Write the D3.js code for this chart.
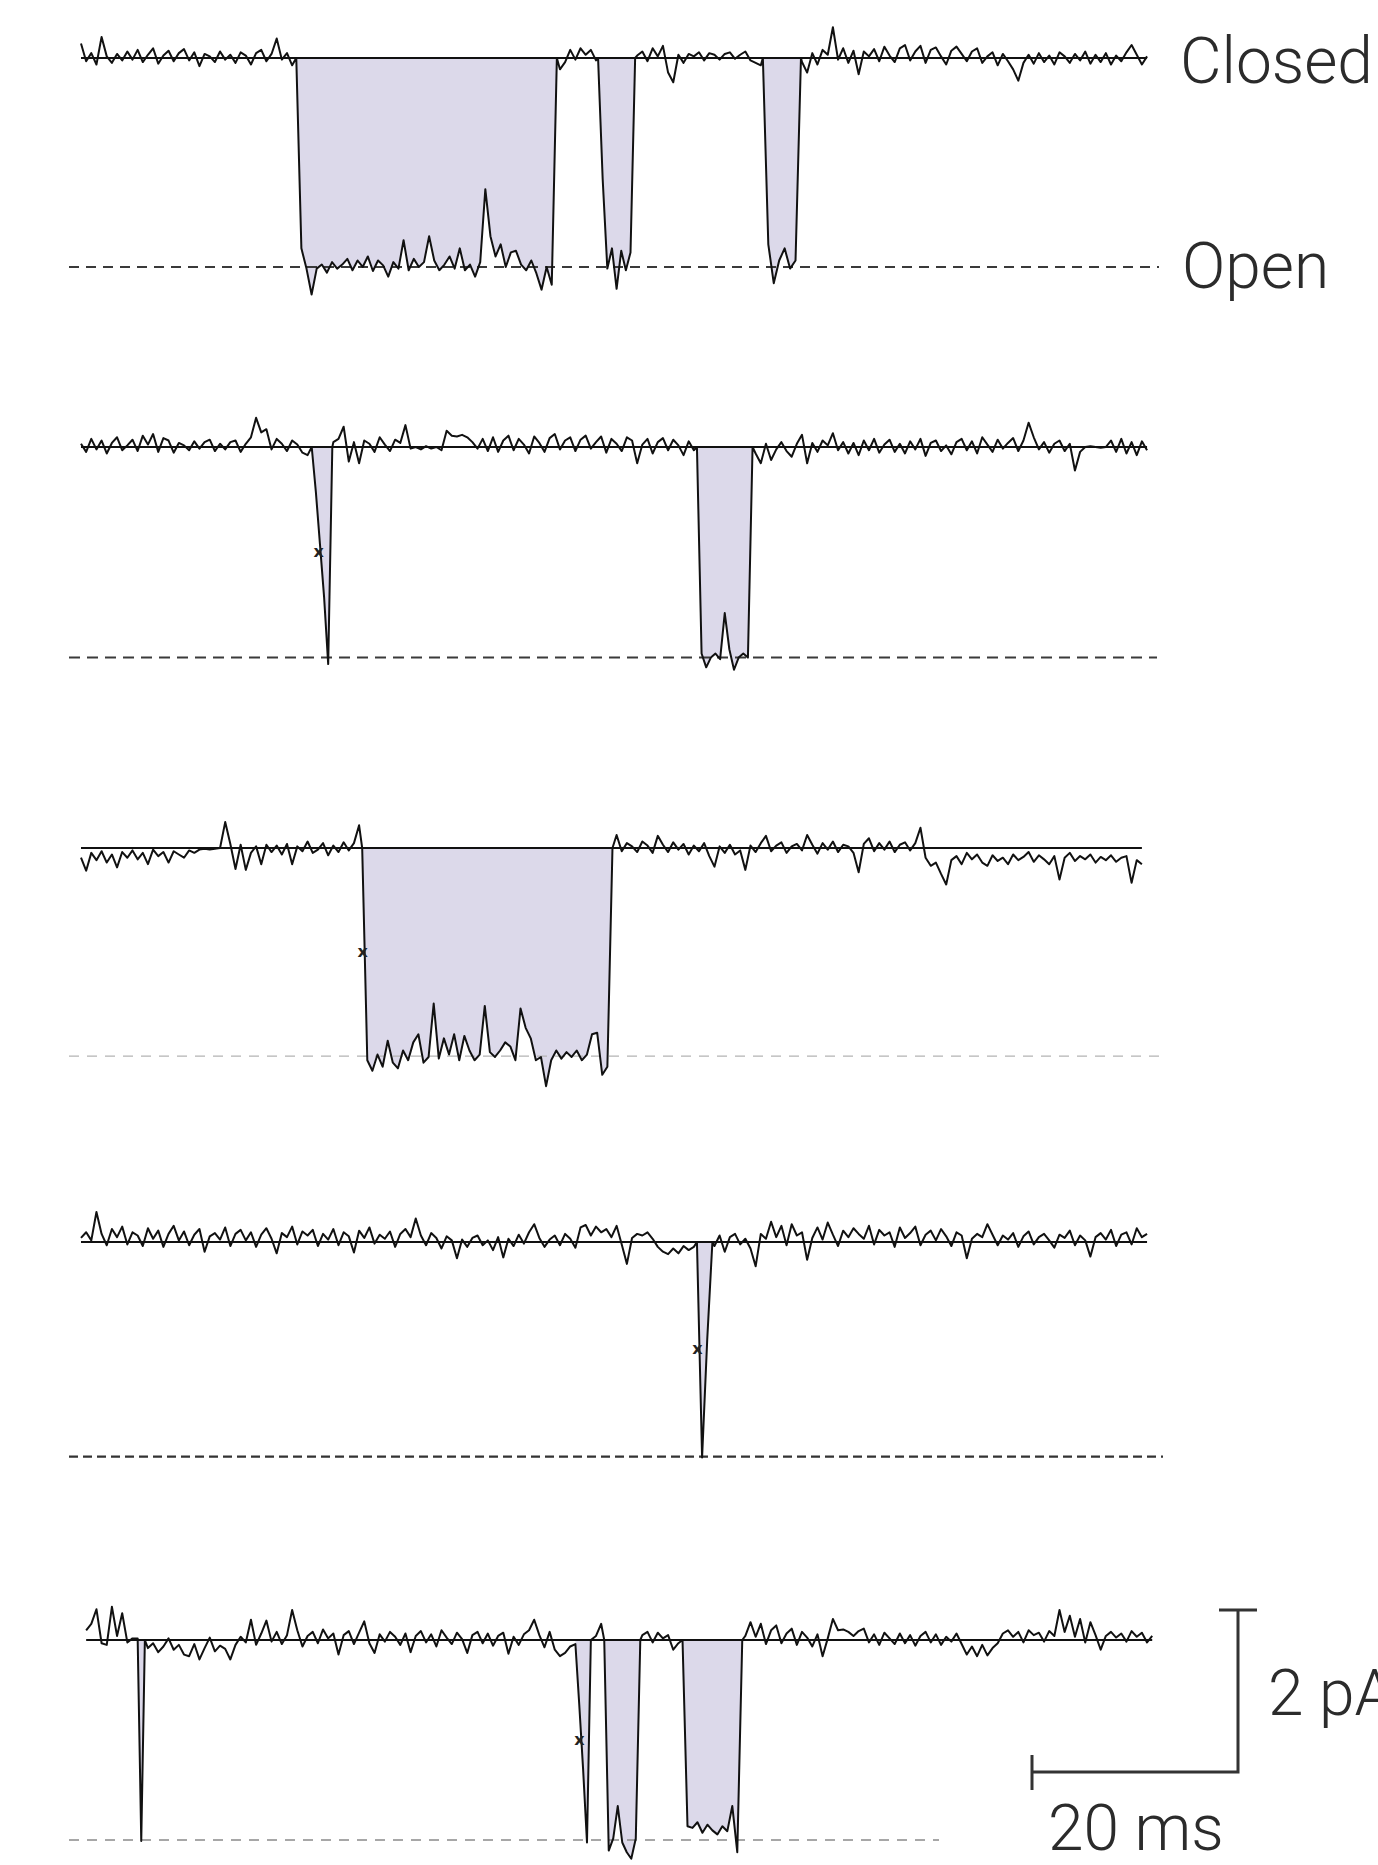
<!DOCTYPE html>
<html>
<head>
<meta charset="utf-8">
<script src="https://cdn.jsdelivr.net/npm/d3@7"></script>
<style>
  body { margin: 0; background: #fff; }
  .label { font-family: Roboto, 'Liberation Sans', sans-serif; font-weight: 300; font-size: 64px; fill: #2b2b2b; }
  .mark { font-family: 'DejaVu Sans', sans-serif; font-size: 16px; font-weight: bold; fill: #222; }
</style>
</head>
<body>
<svg id="chart"></svg>
<script>
// closed-state current of each sweep (pA), one sample every 0.5 ms.
// null = the channel is open there, see the events below
var step = 0.5;
var sweepStart = [0, 0, 0, 0, 0.5];
var openLevel = [-2.58, -2.6, -2.57, -2.65, -2.47];

var noise1 = [
  .18, -.04, .06, -.08, .26, .02, -.06, .05, -.03, .08,
  -.02, .10, -.05, .04, .12, -.07, .03, .09, -.04, .06,
  .11, -.03, .07, -.10, .05, .02, -.05, .08, -.02, .04,
  -.06, .07, .03, -.08, .06, .10, -.04, .05, .24, -.02,
  .06, -.09, null, null, null, null, null, null, null, null,
  null, null, null, null, null, null, null, null, null, null,
  null, null, null, null, null, null, null, null, null, null,
  null, null, null, null, null, null, null, null, null, null,
  null, null, null, null, null, null, null, null, null, null,
  null, null, null, -.14, -.05, .10, -.02, .12, .04, .10,
  -.03, null, null, null, null, null, null, null, .03, .08,
  -.04, .12, .02, .15, -.18, -.30, .04, -.06, .05, .02,
  .07, -.03, .06, .04, -.02, .05, .07, -.01, .04, .08,
  -.03, -.06, -.09, null, null, null, null, null, null, null,
  -.05, -.18, .06, -.08, .10, .04, .38, -.02, .12, -.06,
  .09, -.20, .08, .02, .11, -.04, .14, .03, -.05, .12,
  .16, -.03, .08, .15, -.06, .10, .13, .02, -.08, .09,
  .14, .05, -.04, .08, .12, -.06, .02, .07, -.09, .05,
  -.04, -.14, -.28, -.06, .04, -.07, .06, -.05, .03, -.08,
  .07, .02, -.06, .05, -.03, .08, -.07, .04, -.05, .06,
  -.08, .03, -.04, .07, .16, .04, -.08, .02
];
var noise2 = [
  .04, -.06, .10, -.03, .08, -.08, .05, .12, -.04, .02,
  .09, -.05, .14, .03, .16, -.06, .11, .08, -.07, .05,
  .02, -.04, .07, -.02, .06, .09, -.05, .04, -.03, .06,
  .08, -.06, .04, .12, .36, .18, .22, -.03, .10, .04,
  -.05, .08, .03, -.07, -.10, null, null, null, null, .06,
  .10, .25, -.18, .06, -.20, .08, .04, -.06, .12, .03,
  -.05, .09, .05, .27, -.02, .00, -.03, .01, -.02, .00,
  -.04, .20, .14, .13, .15, .12, .06, -.02, .10, -.05,
  .12, -.06, .08, .14, -.04, .10, .03, -.08, .13, .05,
  -.06, .11, .16, -.03, .08, .12, -.05, .09, .14, -.02,
  .06, .13, -.07, .10, .04, -.05, .12, .08, -.20, .03,
  .10, -.08, .06, .11, -.04, .09, .02, -.10, .07, -.04,
  null, null, null, null, null, null, null, null, null, null,
  null, -.08, -.20, .04, -.16, -.03, .06, -.05, -.12, .04,
  .15, -.20, .05, -.06, .08, .02, .17, -.04, .06, -.08,
  .05, -.10, .08, -.04, .10, -.07, .03, .09, -.06, .04,
  -.08, .07, -.03, .10, -.11, .05, .08, -.05, .02, -.09,
  .06, .10, -.04, .07, -.08, .12, .03, -.06, .09, -.02,
  .05, .11, -.05, .08, .30, .12, -.03, .06, -.07, .04,
  .08, -.05, .04, -.29, -.06, .00, .01, .00, -.01, .00,
  .08, -.06, .10, -.08, .06, -.10, .07, -.04
];
var noise3 = [
  -.12, -.28, -.06, -.15, -.04, -.18, -.08, -.24, -.05, -.12,
  -.03, -.14, -.06, -.20, -.02, -.10, -.05, -.18, -.04, -.08,
  -.12, -.03, -.06, -.02, -.01, -.02, -.01, .00, .32, .05,
  -.26, .04, -.27, -.06, .02, -.20, .04, -.05, .03, -.08,
  .05, -.20, .02, -.04, .08, -.06, -.02, .06, -.09, .03,
  -.05, .07, -.03, .06, .28, null, null, null, null, null,
  null, null, null, null, null, null, null, null, null, null,
  null, null, null, null, null, null, null, null, null, null,
  null, null, null, null, null, null, null, null, null, null,
  null, null, null, null, null, null, null, null, null, null,
  null, null, null, null, .16, -.04, .06, .02, -.05, .08,
  .03, -.06, .15, .04, -.05, .07, -.02, .05, -.08, .03,
  -.04, .06, -.10, -.23, .02, -.06, .04, -.08, -.03, -.27,
  .03, -.05, .06, .15, -.04, .03, .07, -.06, .02, .05,
  -.03, .16, .04, -.07, .06, -.02, .08, -.05, .04, .02,
  -.06, -.30, .05, .12, -.04, .06, -.02, .08, -.05, .04,
  .07, -.03, .06, .25, -.12, -.22, -.18, -.32, -.45, -.15,
  -.10, -.20, -.06, -.14, -.08, -.18, -.22, -.09, -.16, -.12,
  -.20, -.08, -.15, -.11, -.05, -.17, -.09, -.14, -.20, -.10,
  -.39, -.12, -.06, -.16, -.10, -.14, -.08, -.18, -.11, -.15,
  -.09, -.17, -.12, -.10, -.43, -.15, -.20
];
var noise4 = [
  .05, .12, .02, .37, .10, -.04, .16, .06, .19, -.03,
  .12, .08, -.05, .17, .04, .14, -.06, .10, .20, .02,
  .13, -.04, .09, .16, -.12, .07, .11, .03, .18, -.05,
  .10, .15, .02, .12, -.06, .09, .17, .04, -.14, .11,
  .06, .19, -.03, .13, .08, .15, -.05, .10, .03, .16,
  -.04, .12, .07, -.13, .14, .05, .18, -.02, .09, .04,
  .13, -.06, .10, .16, .06, .29, .08, -.04, .11, .05,
  -.08, .07, .02, -.20, .03, -.06, .05, .08, -.04, .02,
  -.10, .06, -.19, .04, -.05, .09, -.02, .12, .22, .05,
  -.06, .03, .08, -.04, .10, .04, -.07, .18, .21, .08,
  .19, .12, .16, .06, .20, -.03, -.27, .05, .10, .08,
  .12, .04, -.06, -.12, -.15, -.08, -.14, -.05, -.10, -.06,
  null, null, null, -.05, .08, -.12, .06, .10, -.03, .04,
  -.08, -.30, .10, .04, .25, .06, .20, -.04, .22, .08,
  .12, -.22, .05, .18, .03, .24, .09, -.05, .14, .06,
  .17, .10, .04, .20, -.03, .15, .08, .12, -.06, .18,
  .05, .11, .19, -.04, .09, .14, .02, .16, .07, -.05,
  .12, .08, -.20, .04, .10, .06, .22, .09, -.04, .08,
  .03, .11, -.06, .07, .13, -.03, .06, .10, .02, -.07,
  .09, .05, .14, -.04, .08, .02, -.18, .06, .11, .03,
  .15, -.05, .09, .12, -.03, .17, .06, .10
];
var noise5 = [
  .12, .20, .38, -.04, -.06, .41, .05, .33, -.03, .02,
  null, null, -.10, -.04, -.15, -.08, .02, -.12, -.06, -.18,
  -.20, -.05, -.24, -.10, .03, -.14, -.07, -.11, -.24, -.06,
  .04, -.03, .25, -.06, .08, .24, -.02, .10, -.05, .06,
  .37, .12, -.08, .05, .10, -.04, .13, .02, .08, -.18,
  .06, .11, -.05, .09, .23, -.04, -.16, .07, -.02, .10,
  .04, -.06, .08, -.15, .05, .11, -.03, .07, -.08, .12,
  .03, -.05, .09, .01, -.16, .06, .10, -.04, .08, -.07,
  .05, .09, -.17, .04, -.06, .07, .12, .25, .06, -.09,
  .10, -.12, -.20, -.16, -.08, null, null, null, null, .05,
  .20, null, null, null, null, null, null, null, .06, .10,
  -.03, .09, .02, .06, -.12, -.04, null, null, null, null,
  null, null, null, null, null, null, null, null, .05, .22,
  .04, .20, -.05, .12, .18, -.04, .08, .14, -.06, .10,
  .03, -.08, .07, -.20, .02, .26, .12, .13, .10, .05,
  .11, .14, -.03, .07, -.06, .09, .02, -.05, .08, -.04,
  .06, -.07, .05, .10, -.03, .07, -.06, .04, -.02, .08,
  -.05, -.18, -.08, -.20, -.06, -.19, -.10, -.04, .08, .12,
  .04, .10, -.03, .12, .06, .09, -.02, .11, .05, .37,
  .10, .30, .04, .26, -.03, .22, .06, -.12, .05, .10,
  .03, .08, -.02, .11, .04, .09, -.03, .05
];

// channel openings: start and end (ms), current (pA) spread evenly between them
var events1 = [
  {start: 20.9, end: 46.2, values: [0, -2.35, -2.60, -2.92, -2.60, -2.55, -2.65, -2.52, -2.60, -2.55,
    -2.48, -2.62, -2.50, -2.58, -2.45, -2.63, -2.50, -2.56, -2.70, -2.52, -2.60, -2.25, -2.62, -2.48,
    -2.58, -2.52, -2.20, -2.50, -2.62, -2.55, -2.45, -2.60, -2.35, -2.62, -2.55, -2.70, -2.52, -1.62,
    -2.20, -2.45, -2.30, -2.58, -2.40, -2.38, -2.55, -2.62, -2.50, -2.66, -2.86, -2.58, -2.80, 0]},
  {start: 50.2, end: 53.8, values: [0, -1.5, -2.6, -2.35, -2.85, -2.38, -2.62, -2.4, 0]},
  {start: 66.2, end: 69.9, values: [0, -2.3, -2.78, -2.5, -2.35, -2.6, -2.5, 0]}
];
var events2 = [
  {start: 22.4, end: 24.4, values: [0, -0.55, -1.2, -1.85, -2.68, 0]},
  {start: 59.8, end: 65.2, values: [0, -2.55, -2.72, -2.6, -2.55, -2.62, -2.05, -2.5, -2.75, -2.6, -2.55, -2.6, 0]}
];
var events3 = [
  {start: 27.3, end: 51.6, values: [0, -2.62, -2.75, -2.55, -2.70, -2.38, -2.65, -2.72, -2.50, -2.62,
    -2.40, -2.30, -2.65, -2.58, -1.92, -2.60, -2.35, -2.55, -2.30, -2.62, -2.32, -2.50, -2.62, -2.55,
    -1.95, -2.52, -2.58, -2.50, -2.40, -2.45, -2.62, -1.98, -2.22, -2.35, -2.62, -2.58, -2.94, -2.62,
    -2.50, -2.60, -2.52, -2.58, -2.50, -2.62, -2.55, -2.30, -2.28, -2.80, -2.70, 0]}
];
var events4 = [
  {start: 59.8, end: 61.3, values: [0, -2.66, -1.2, 0]}
];
var events5 = [
  {start: 5.5, end: 6.2, values: [.02, -2.48, 0]},
  {start: 48.0, end: 49.5, values: [-.05, -0.8, -1.6, -2.5, 0]},
  {start: 50.8, end: 54.3, values: [0, -2.6, -2.45, -2.05, -2.5, -2.62, -2.7, -2.45, 0]},
  {start: 58.4, end: 64.2, values: [0, -2.3, -2.32, -2.25, -2.38, -2.28, -2.35, -2.4, -2.3, -2.36, -2.05, -2.62, 0]}
];

// openings marked at half amplitude: [sweep, opening]
var halfMarks = [[1, 0], [2, 0], [3, 0], [4, 1]];
var levelLabels = ['Closed', 'Open'];
var barMs = 20, barPa = 2;
var barLabels = ['20 ms', '2 pA'];

var noises = [noise1, noise2, noise3, noise4, noise5];
var events = [events1, events2, events3, events4, events5];

var width = 1378, height = 1865;
var pxPerPa = 81;
var baseY = [58, 447, 848, 1242, 1640];
var dashEnd = [1159, 1157, 1162, 1163, 939];
var dashStyle = [
  {color: '#3a3a3a', width: 2, dash: '10,7'},
  {color: '#3a3a3a', width: 2, dash: '11,7'},
  {color: '#b4b4b4', width: 1.3, dash: '10,8'},
  {color: '#333', width: 2.2, dash: '9,5'},
  {color: '#8a8a8a', width: 1.6, dash: '10,8'}
];

var x = d3.scaleLinear().domain([0, 100]).range([81, 1111]);

var svg = d3.select('#chart')
  .attr('width', width)
  .attr('height', height);

function sweepPoints(k) {
  var pts = [];
  noises[k].forEach(function(v, i) {
    var t = sweepStart[k] + i * step;
    var inside = events[k].some(function(e) { return t >= e.start && t <= e.end; });
    if (v !== null && !inside) pts.push([t, v]);
  });
  events[k].forEach(function(e) {
    eventPoints(e).forEach(function(p) { pts.push(p); });
  });
  return pts.sort(function(a, b) { return a[0] - b[0]; });
}

function eventPoints(e) {
  var dt = (e.end - e.start) / (e.values.length - 1);
  return e.values.map(function(v, j) { return [e.start + j * dt, v]; });
}

// time where the opening first crosses half of the open level
function halfCrossing(e, level) {
  var half = level / 2, pts = eventPoints(e);
  for (var j = 1; j < pts.length; j++) {
    var a = pts[j - 1][1], b = pts[j][1];
    if (a > half && b <= half) {
      return pts[j - 1][0] + (pts[j][0] - pts[j - 1][0]) * (a - half) / (a - b);
    }
  }
  return e.start;
}

noises.forEach(function(noise, k) {
  var y = d3.scaleLinear().domain([0, -1]).range([baseY[k], baseY[k] + pxPerPa]);
  var g = svg.append('g').attr('class', 'sweep');
  var pts = sweepPoints(k);
  var tEnd = sweepStart[k] + (noise.length - 1) * step;

  // shaded openings
  var area = d3.area()
    .x(function(d) { return x(d[0]); })
    .y0(y(0))
    .y1(function(d) { return y(d[1]); });
  g.selectAll('.opening')
    .data(events[k])
    .enter().append('path')
    .attr('class', 'opening')
    .attr('d', function(e) { return area(eventPoints(e)); })
    .style('fill', '#dcd9ea');

  // open level
  g.append('line')
    .attr('x1', 69).attr('x2', dashEnd[k])
    .attr('y1', y(openLevel[k])).attr('y2', y(openLevel[k]))
    .style('stroke', dashStyle[k].color)
    .style('stroke-width', dashStyle[k].width)
    .style('stroke-dasharray', dashStyle[k].dash);

  // closed level
  g.append('line')
    .attr('x1', x(sweepStart[k])).attr('x2', x(tEnd))
    .attr('y1', y(0)).attr('y2', y(0))
    .style('stroke', '#111')
    .style('stroke-width', 1.8);

  var line = d3.line()
    .x(function(d) { return x(d[0]); })
    .y(function(d) { return y(d[1]); });
  g.append('path')
    .datum(pts)
    .attr('d', line)
    .style('fill', 'none')
    .style('stroke', '#111')
    .style('stroke-width', 2)
    .style('stroke-linejoin', 'round');

  halfMarks.filter(function(m) { return m[0] === k; }).forEach(function(m) {
    var e = events[k][m[1]];
    g.append('text')
      .attr('class', 'mark')
      .attr('x', x(halfCrossing(e, openLevel[k])) - 2)
      .attr('y', y(openLevel[k] / 2) + 5)
      .attr('text-anchor', 'middle')
      .text('x');
  });
});

// level labels beside the first sweep
svg.append('text').attr('class', 'label').attr('x', 1180).attr('y', 83).text(levelLabels[0]);
svg.append('text').attr('class', 'label').attr('x', 1182).attr('y', 288).text(levelLabels[1]);

// scale bar
var barX = 1032, barY = 1772;
var barW = x(barMs) - x(0), barH = barPa * pxPerPa;
var bar = svg.append('g')
  .attr('class', 'scalebar')
  .style('stroke', '#333')
  .style('stroke-width', 3)
  .style('fill', 'none');
bar.append('path')
  .attr('d', 'M' + barX + ',' + barY + 'H' + (barX + barW) + 'V' + (barY - barH));
bar.append('path')
  .attr('d', 'M' + barX + ',' + (barY - 17) + 'V' + (barY + 18));
bar.append('path')
  .attr('d', 'M' + (barX + barW - 19) + ',' + (barY - barH) + 'H' + (barX + barW + 19));

svg.append('text').attr('class', 'label').attr('x', 1048).attr('y', 1850).text(barLabels[0]);
svg.append('text').attr('class', 'label').attr('x', 1268).attr('y', 1715).text(barLabels[1]);
</script>
</body>
</html>
